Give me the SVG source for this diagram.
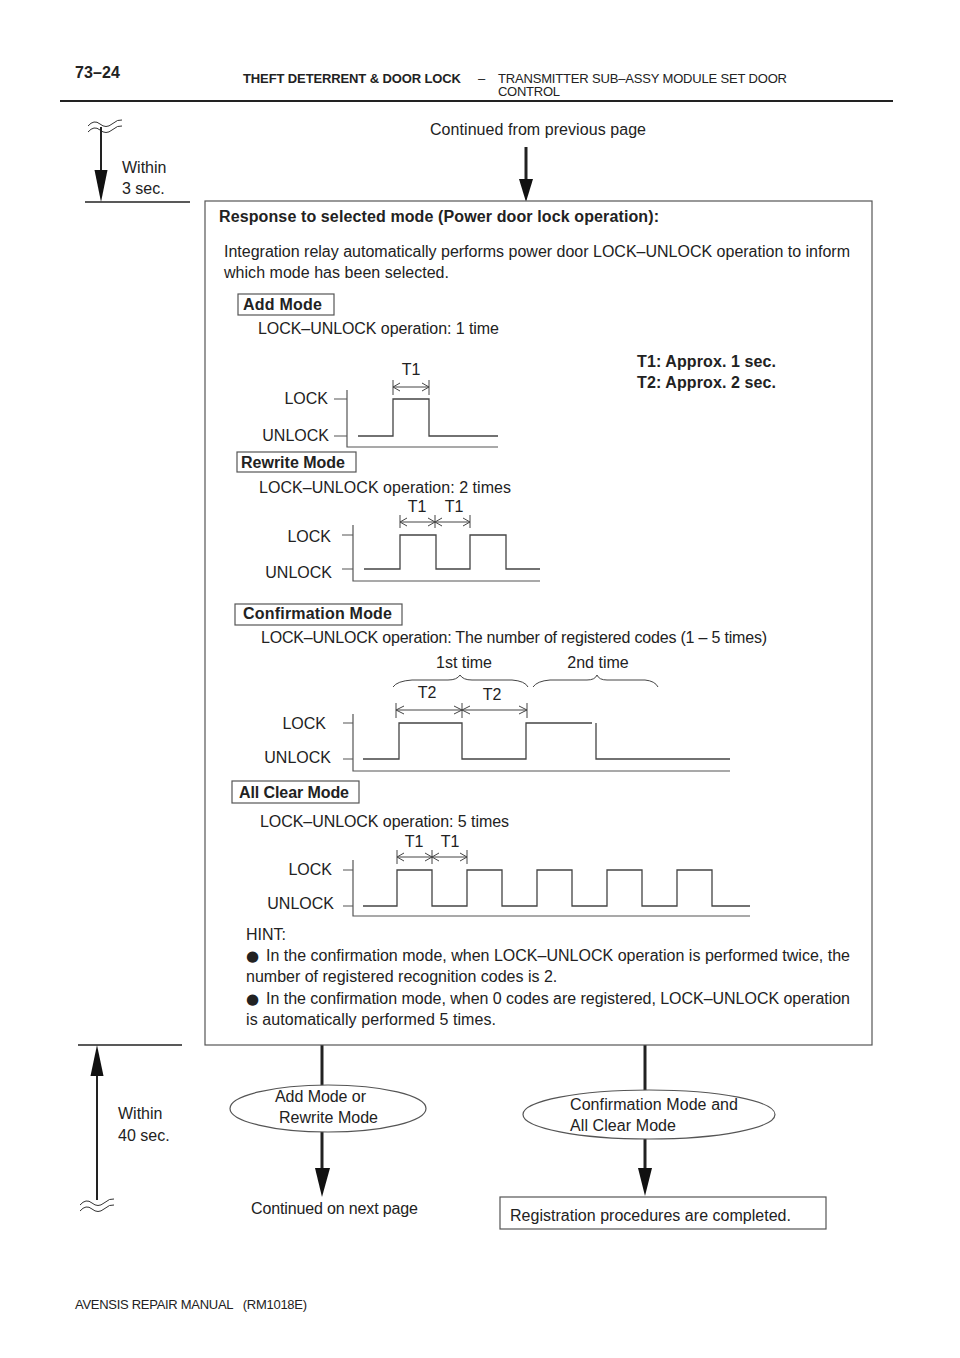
<svg xmlns="http://www.w3.org/2000/svg" width="960" height="1358" viewBox="0 0 960 1358">
<style>
text{font-family:"Liberation Sans",Arial,sans-serif;fill:#222;font-size:16px}
.b{font-weight:bold}
.hd{font-size:13px}
.box{fill:#fff;stroke:#555;stroke-width:1.2}
.wl{fill:none;stroke:#444;stroke-width:1.3}
.ax{fill:none;stroke:#555;stroke-width:1.2}
.dim{fill:none;stroke:#444;stroke-width:1}
.ln{fill:none;stroke:#222;stroke-width:2}
.th{fill:none;stroke:#222;stroke-width:3}
.ah{fill:#111;stroke:none}
.wv{fill:none;stroke:#333;stroke-width:1}
.r{text-anchor:end}
.m{text-anchor:middle}
.bu{font-family:"DejaVu Sans",sans-serif;font-size:15px}
</style>
<g id="header">
<text x="75" y="78" class="b" textLength="45">73–24</text>
<text x="243" y="83" class="b hd" textLength="218">THEFT DETERRENT &amp; DOOR LOCK</text>
<text x="478" y="83" class="hd">–</text>
<text x="498" y="83" class="hd" textLength="289">TRANSMITTER SUB–ASSY MODULE SET DOOR</text>
<text x="498" y="96" class="hd" textLength="62">CONTROL</text>
<line x1="60" y1="101" x2="893" y2="101" stroke="#222" stroke-width="2"/>
</g>
<g id="connectors">
<path class="wv" d="M88 126 q6 -7 12 -2 t12 0 t10 -4 M88 132 q6 -7 12 -2 t12 0 t10 -4"/>
<line class="ln" x1="101" y1="127" x2="101" y2="172"/>
<polygon class="ah" points="94.5,170 107.5,170 101,202"/>
<line x1="85" y1="202" x2="190" y2="202" stroke="#222" stroke-width="1.5"/>
<line class="th" x1="526" y1="147" x2="526" y2="182"/>
<polygon class="ah" points="519,179 533,179 526,202"/>
<line x1="78" y1="1045" x2="182" y2="1045" stroke="#222" stroke-width="1.5"/>
<line class="ln" x1="97" y1="1072" x2="97" y2="1200"/>
<polygon class="ah" points="90.5,1076 103.5,1076 97,1045"/>
<path class="wv" d="M80 1205 q6 -7 12 -2 t12 0 t10 -4 M80 1211 q6 -7 12 -2 t12 0 t10 -4"/>
<line class="th" x1="322" y1="1045" x2="322" y2="1086"/>
<line class="th" x1="322" y1="1132" x2="322" y2="1172"/>
<polygon class="ah" points="315,1168 330,1168 322,1197"/>
<line class="th" x1="645" y1="1045" x2="645" y2="1091"/>
<line class="th" x1="645" y1="1139" x2="645" y2="1172"/>
<polygon class="ah" points="638,1168 652,1168 645,1196"/>
</g>
<g id="top-left">
<text x="122" y="173">Within</text>
<text x="122" y="194">3 sec.</text>
<text x="430" y="135" textLength="216">Continued from previous page</text>
</g>
<g id="main-box">
<rect class="box" x="205" y="201" width="667" height="844"/>
<text x="219" y="222" class="b" textLength="440">Response to selected mode (Power door lock operation):</text>
<text x="224" y="257" textLength="626">Integration relay automatically performs power door LOCK–UNLOCK operation to inform</text>
<text x="224" y="278" textLength="225">which mode has been selected.</text>
<text x="637" y="367" class="b" textLength="139">T1: Approx. 1 sec.</text>
<text x="637" y="388" class="b" textLength="139">T2: Approx. 2 sec.</text>
</g>
<g id="add-mode">
<rect class="box" x="238" y="294" width="96" height="21"/>
<text x="243" y="310" class="b" textLength="79">Add Mode</text>
<text x="258" y="334" textLength="241">LOCK–UNLOCK operation: 1 time</text>
<text x="411" y="375" class="m">T1</text>
<path class="dim" d="M393 380V395M429 380V395M393 387H429M400 383L393 387L400 391M422 383L429 387L422 391"/>
<path class="ax" d="M347 390V447H498M334 399H347M334 436H347"/>
<path class="wl" d="M358 436H393V399H429V436H498"/>
<text x="328" y="404" class="r">LOCK</text>
<text x="329" y="441" class="r">UNLOCK</text>
</g>
<g id="rewrite-mode">
<rect class="box" x="237" y="452" width="119" height="20"/>
<text x="241" y="468" class="b" textLength="104">Rewrite Mode</text>
<text x="259" y="493" textLength="252">LOCK–UNLOCK operation: 2 times</text>
<text x="417" y="512" class="m">T1</text>
<text x="454" y="512" class="m">T1</text>
<path class="dim" d="M400 515V528M435 515V528M470 515V528M400 522H470M407 518L400 522L407 526M428 518L435 522L428 526M442 518L435 522L442 526M463 518L470 522L463 526"/>
<path class="ax" d="M353 525V581H540M342 535H353M342 569H353"/>
<path class="wl" d="M364 569H400V535H436V569H470V535H506V569H540"/>
<text x="331" y="542" class="r">LOCK</text>
<text x="332" y="578" class="r">UNLOCK</text>
</g>
<g id="confirmation-mode">
<rect class="box" x="235" y="604" width="167" height="21"/>
<text x="243" y="619" class="b" textLength="149">Confirmation Mode</text>
<text x="261" y="643" textLength="506">LOCK–UNLOCK operation: The number of registered codes (1 – 5 times)</text>
<text x="464" y="668" class="m">1st time</text>
<text x="598" y="668" class="m">2nd time</text>
<path class="dim" d="M393 687Q397 681 412 680H448Q457 680 460 675Q463 680 472 680H512Q525 681 528 687"/>
<path class="dim" d="M533 687Q537 681 550 680H587Q595 680 597 675Q599 680 607 680H645Q655 681 658 687"/>
<text x="427" y="698" class="m">T2</text>
<text x="492" y="700" class="m">T2</text>
<path class="dim" d="M396 703V718M462 703V718M527 703V718M396 710H527M404 706L396 710L404 714M454 706L462 710L454 714M470 706L462 710L470 714M519 706L527 710L519 714"/>
<path class="ax" d="M353 714V771H730M343 723H353M343 759H353"/>
<path class="wl" d="M363 759H399V723H462V759H526V723H592M596 723V759H730"/>
<text x="326" y="729" class="r">LOCK</text>
<text x="331" y="763" class="r">UNLOCK</text>
</g>
<g id="all-clear-mode">
<rect class="box" x="232" y="781" width="127" height="22"/>
<text x="239" y="798" class="b" textLength="110">All Clear Mode</text>
<text x="260" y="827" textLength="249">LOCK–UNLOCK operation: 5 times</text>
<text x="414" y="847" class="m">T1</text>
<text x="450" y="847" class="m">T1</text>
<path class="dim" d="M397 850V864M432 850V864M467 850V864M397 857H467M404 853L397 857L404 861M425 853L432 857L425 861M439 853L432 857L439 861M460 853L467 857L460 861"/>
<path class="ax" d="M353 860V916H750M343 870H353M343 906H353"/>
<path class="wl" d="M363 906H397V870H432V906H467V870H502V906H537V870H572V906H607V870H642V906H677V870H712V906H750"/>
<text x="332" y="875" class="r">LOCK</text>
<text x="334" y="909" class="r">UNLOCK</text>
</g>
<g id="hint">
<text x="246" y="940">HINT:</text>
<text x="246" y="961"><tspan class="bu">●</tspan><tspan x="266" textLength="584">In the confirmation mode, when LOCK–UNLOCK operation is performed twice, the</tspan></text>
<text x="246" y="982">number of registered recognition codes is 2.</text>
<text x="246" y="1004"><tspan class="bu">●</tspan><tspan x="266" textLength="584">In the confirmation mode, when 0 codes are registered, LOCK–UNLOCK operation</tspan></text>
<text x="246" y="1025" textLength="250">is automatically performed 5 times.</text>
</g>
<g id="bottom-left">
<text x="118" y="1119">Within</text>
<text x="118" y="1141">40 sec.</text>
</g>
<g id="add-rewrite-node">
<ellipse class="box" cx="328" cy="1108.5" rx="98" ry="23.5"/>
<text x="275" y="1102" textLength="91">Add Mode or</text>
<text x="279" y="1123" textLength="99">Rewrite Mode</text>
</g>
<g id="next-page">
<text x="251" y="1214" textLength="167">Continued on next page</text>
</g>
<g id="confirm-clear-node">
<ellipse class="box" cx="649" cy="1114.5" rx="126" ry="24.5"/>
<text x="570" y="1110" textLength="168">Confirmation Mode and</text>
<text x="570" y="1131" textLength="106">All Clear Mode</text>
</g>
<g id="completed">
<rect class="box" x="500" y="1197" width="326" height="32"/>
<text x="510" y="1221" textLength="281">Registration procedures are completed.</text>
</g>
<g id="footer">
<text x="75" y="1309" class="hd" style="white-space:pre" textLength="232">AVENSIS REPAIR MANUAL   (RM1018E)</text>
</g>
</svg>
